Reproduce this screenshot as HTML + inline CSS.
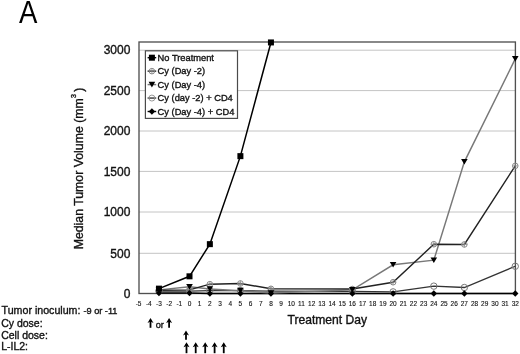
<!DOCTYPE html><html><head><meta charset="utf-8"><style>html,body{margin:0;padding:0;background:#fff;width:520px;height:354px;overflow:hidden}svg{display:block;font-family:"Liberation Sans",sans-serif;will-change:transform}text{stroke:#111;stroke-width:0.35px;paint-order:stroke}</style></head><body>
<svg width="520" height="354" viewBox="0 0 520 354">
<rect width="520" height="354" fill="#fff"/>
<text transform="translate(19.1,22.6) scale(0.895,1)" x="0" y="0" font-size="30.8" fill="#000" style="stroke:none">A</text>
<text transform="translate(82.7,249.3) rotate(-90)" font-size="12.3" fill="#111">Median Tumor Volume (mm<tspan font-size="7" dy="-7.2" dx="0.3">3</tspan><tspan dy="7.2" dx="2.2">)</tspan></text>
<line x1="139" y1="253.30" x2="515.2" y2="253.30" stroke="#c4c4c4" stroke-width="1"/>
<line x1="139" y1="212.00" x2="515.2" y2="212.00" stroke="#c4c4c4" stroke-width="1"/>
<line x1="139" y1="171.40" x2="515.2" y2="171.40" stroke="#c4c4c4" stroke-width="1"/>
<line x1="139" y1="131.00" x2="515.2" y2="131.00" stroke="#c4c4c4" stroke-width="1"/>
<line x1="139" y1="90.60" x2="515.2" y2="90.60" stroke="#c4c4c4" stroke-width="1"/>
<line x1="139" y1="50.20" x2="515.2" y2="50.20" stroke="#c4c4c4" stroke-width="1"/>
<text x="130.4" y="297.70" font-size="12" text-anchor="end" fill="#111">0</text>
<text x="130.4" y="257.50" font-size="12" text-anchor="end" fill="#111">500</text>
<text x="130.4" y="216.20" font-size="12" text-anchor="end" fill="#111">1000</text>
<text x="130.4" y="175.60" font-size="12" text-anchor="end" fill="#111">1500</text>
<text x="130.4" y="135.20" font-size="12" text-anchor="end" fill="#111">2000</text>
<text x="130.4" y="94.80" font-size="12" text-anchor="end" fill="#111">2500</text>
<text x="130.4" y="54.40" font-size="12" text-anchor="end" fill="#111">3000</text>
<rect x="139" y="42.0" width="376.40" height="251.50" fill="none" stroke="#505050" stroke-width="1.35"/>
<text x="138.60" y="305.6" font-size="6.5" text-anchor="middle" fill="#111" style="stroke-width:0.12px">-5</text>
<text x="148.78" y="305.6" font-size="6.5" text-anchor="middle" fill="#111" style="stroke-width:0.12px">-4</text>
<text x="158.96" y="305.6" font-size="6.5" text-anchor="middle" fill="#111" style="stroke-width:0.12px">-3</text>
<text x="169.14" y="305.6" font-size="6.5" text-anchor="middle" fill="#111" style="stroke-width:0.12px">-2</text>
<text x="179.32" y="305.6" font-size="6.5" text-anchor="middle" fill="#111" style="stroke-width:0.12px">-1</text>
<text x="189.50" y="305.6" font-size="6.5" text-anchor="middle" fill="#111" style="stroke-width:0.12px">0</text>
<text x="199.68" y="305.6" font-size="6.5" text-anchor="middle" fill="#111" style="stroke-width:0.12px">1</text>
<text x="209.86" y="305.6" font-size="6.5" text-anchor="middle" fill="#111" style="stroke-width:0.12px">2</text>
<text x="220.04" y="305.6" font-size="6.5" text-anchor="middle" fill="#111" style="stroke-width:0.12px">3</text>
<text x="230.22" y="305.6" font-size="6.5" text-anchor="middle" fill="#111" style="stroke-width:0.12px">4</text>
<text x="240.40" y="305.6" font-size="6.5" text-anchor="middle" fill="#111" style="stroke-width:0.12px">5</text>
<text x="250.58" y="305.6" font-size="6.5" text-anchor="middle" fill="#111" style="stroke-width:0.12px">6</text>
<text x="260.76" y="305.6" font-size="6.5" text-anchor="middle" fill="#111" style="stroke-width:0.12px">7</text>
<text x="270.94" y="305.6" font-size="6.5" text-anchor="middle" fill="#111" style="stroke-width:0.12px">8</text>
<text x="281.12" y="305.6" font-size="6.5" text-anchor="middle" fill="#111" style="stroke-width:0.12px">9</text>
<text x="291.30" y="305.6" font-size="6.5" text-anchor="middle" fill="#111" style="stroke-width:0.12px">10</text>
<text x="301.48" y="305.6" font-size="6.5" text-anchor="middle" fill="#111" style="stroke-width:0.12px">11</text>
<text x="311.66" y="305.6" font-size="6.5" text-anchor="middle" fill="#111" style="stroke-width:0.12px">12</text>
<text x="321.84" y="305.6" font-size="6.5" text-anchor="middle" fill="#111" style="stroke-width:0.12px">13</text>
<text x="332.02" y="305.6" font-size="6.5" text-anchor="middle" fill="#111" style="stroke-width:0.12px">14</text>
<text x="342.20" y="305.6" font-size="6.5" text-anchor="middle" fill="#111" style="stroke-width:0.12px">15</text>
<text x="352.38" y="305.6" font-size="6.5" text-anchor="middle" fill="#111" style="stroke-width:0.12px">16</text>
<text x="362.56" y="305.6" font-size="6.5" text-anchor="middle" fill="#111" style="stroke-width:0.12px">17</text>
<text x="372.74" y="305.6" font-size="6.5" text-anchor="middle" fill="#111" style="stroke-width:0.12px">18</text>
<text x="382.92" y="305.6" font-size="6.5" text-anchor="middle" fill="#111" style="stroke-width:0.12px">19</text>
<text x="393.10" y="305.6" font-size="6.5" text-anchor="middle" fill="#111" style="stroke-width:0.12px">20</text>
<text x="403.28" y="305.6" font-size="6.5" text-anchor="middle" fill="#111" style="stroke-width:0.12px">21</text>
<text x="413.46" y="305.6" font-size="6.5" text-anchor="middle" fill="#111" style="stroke-width:0.12px">22</text>
<text x="423.64" y="305.6" font-size="6.5" text-anchor="middle" fill="#111" style="stroke-width:0.12px">23</text>
<text x="433.82" y="305.6" font-size="6.5" text-anchor="middle" fill="#111" style="stroke-width:0.12px">24</text>
<text x="444.00" y="305.6" font-size="6.5" text-anchor="middle" fill="#111" style="stroke-width:0.12px">25</text>
<text x="454.18" y="305.6" font-size="6.5" text-anchor="middle" fill="#111" style="stroke-width:0.12px">26</text>
<text x="464.36" y="305.6" font-size="6.5" text-anchor="middle" fill="#111" style="stroke-width:0.12px">27</text>
<text x="474.54" y="305.6" font-size="6.5" text-anchor="middle" fill="#111" style="stroke-width:0.12px">28</text>
<text x="484.72" y="305.6" font-size="6.5" text-anchor="middle" fill="#111" style="stroke-width:0.12px">29</text>
<text x="494.90" y="305.6" font-size="6.5" text-anchor="middle" fill="#111" style="stroke-width:0.12px">30</text>
<text x="505.08" y="305.6" font-size="6.5" text-anchor="middle" fill="#111" style="stroke-width:0.12px">31</text>
<text x="515.26" y="305.6" font-size="6.5" text-anchor="middle" fill="#111" style="stroke-width:0.12px">32</text>
<polyline points="158.96,293.09 189.50,293.09 209.86,293.50 240.40,293.50 270.94,293.50 352.38,293.50 393.10,293.50 433.82,293.50 464.36,293.50 515.26,293.50" fill="none" stroke="#000" stroke-width="1.5"/>
<polyline points="158.96,291.07 189.50,291.07 209.86,290.66 240.40,290.66 270.94,291.07 352.38,291.47 393.10,291.88 433.82,286.13 464.36,287.50 515.26,266.27" fill="none" stroke="#333" stroke-width="1.3"/>
<polyline points="158.96,289.85 189.50,286.85 209.86,289.04 240.40,290.66 270.94,293.09 352.38,289.85 393.10,264.81 433.82,260.19 464.36,161.81 515.26,58.89" fill="none" stroke="#787878" stroke-width="1.45"/>
<polyline points="158.96,290.26 189.50,289.85 209.86,284.18 240.40,283.45 270.94,288.80 352.38,289.04 393.10,282.24 433.82,244.23 464.36,244.47 515.26,165.86" fill="none" stroke="#222" stroke-width="1.4"/>
<polyline points="158.96,288.64 189.50,276.32 209.86,244.15 240.40,156.14 270.94,42.44" fill="none" stroke="#000" stroke-width="1.5"/>
<circle cx="158.96" cy="291.07" r="3.2" fill="none" stroke="#777" stroke-width="1"/>
<circle cx="189.50" cy="291.07" r="3.2" fill="none" stroke="#777" stroke-width="1"/>
<circle cx="209.86" cy="290.66" r="3.2" fill="none" stroke="#777" stroke-width="1"/>
<circle cx="240.40" cy="290.66" r="3.2" fill="none" stroke="#777" stroke-width="1"/>
<circle cx="270.94" cy="291.07" r="3.2" fill="none" stroke="#777" stroke-width="1"/>
<circle cx="352.38" cy="291.47" r="3.2" fill="none" stroke="#777" stroke-width="1"/>
<circle cx="393.10" cy="291.88" r="3.2" fill="none" stroke="#777" stroke-width="1"/>
<circle cx="433.82" cy="286.13" r="3.2" fill="none" stroke="#777" stroke-width="1"/>
<circle cx="464.36" cy="287.50" r="3.2" fill="none" stroke="#777" stroke-width="1"/>
<circle cx="515.26" cy="266.27" r="3.2" fill="none" stroke="#777" stroke-width="1"/>
<circle cx="158.96" cy="290.26" r="2.8" fill="none" stroke="#888" stroke-width="1"/><path d="M156.16,290.26H161.76M158.96,287.46V293.06" stroke="#888" stroke-width="0.8"/>
<circle cx="189.50" cy="289.85" r="2.8" fill="none" stroke="#888" stroke-width="1"/><path d="M186.70,289.85H192.30M189.50,287.05V292.65" stroke="#888" stroke-width="0.8"/>
<circle cx="209.86" cy="284.18" r="2.8" fill="none" stroke="#888" stroke-width="1"/><path d="M207.06,284.18H212.66M209.86,281.38V286.98" stroke="#888" stroke-width="0.8"/>
<circle cx="240.40" cy="283.45" r="2.8" fill="none" stroke="#888" stroke-width="1"/><path d="M237.60,283.45H243.20M240.40,280.65V286.25" stroke="#888" stroke-width="0.8"/>
<circle cx="270.94" cy="288.80" r="2.8" fill="none" stroke="#888" stroke-width="1"/><path d="M268.14,288.80H273.74M270.94,286.00V291.60" stroke="#888" stroke-width="0.8"/>
<circle cx="352.38" cy="289.04" r="2.8" fill="none" stroke="#888" stroke-width="1"/><path d="M349.58,289.04H355.18M352.38,286.24V291.84" stroke="#888" stroke-width="0.8"/>
<circle cx="393.10" cy="282.24" r="2.8" fill="none" stroke="#888" stroke-width="1"/><path d="M390.30,282.24H395.90M393.10,279.44V285.04" stroke="#888" stroke-width="0.8"/>
<circle cx="433.82" cy="244.23" r="2.8" fill="none" stroke="#888" stroke-width="1"/><path d="M431.02,244.23H436.62M433.82,241.43V247.03" stroke="#888" stroke-width="0.8"/>
<circle cx="464.36" cy="244.47" r="2.8" fill="none" stroke="#888" stroke-width="1"/><path d="M461.56,244.47H467.16M464.36,241.67V247.27" stroke="#888" stroke-width="0.8"/>
<circle cx="515.26" cy="165.86" r="2.8" fill="none" stroke="#888" stroke-width="1"/><path d="M512.46,165.86H518.06M515.26,163.06V168.66" stroke="#888" stroke-width="0.8"/>
<path d="M155.66,287.05L162.26,287.05L158.96,292.65Z" fill="#000"/>
<path d="M186.20,284.05L192.80,284.05L189.50,289.65Z" fill="#000"/>
<path d="M206.56,286.24L213.16,286.24L209.86,291.84Z" fill="#000"/>
<path d="M237.10,287.86L243.70,287.86L240.40,293.46Z" fill="#000"/>
<path d="M267.64,290.29L274.24,290.29L270.94,295.89Z" fill="#000"/>
<path d="M349.08,287.05L355.68,287.05L352.38,292.65Z" fill="#000"/>
<path d="M389.80,262.01L396.40,262.01L393.10,267.61Z" fill="#000"/>
<path d="M430.52,257.39L437.12,257.39L433.82,262.99Z" fill="#000"/>
<path d="M461.06,159.01L467.66,159.01L464.36,164.61Z" fill="#000"/>
<path d="M511.96,56.09L518.56,56.09L515.26,61.69Z" fill="#000"/>
<path d="M158.96,289.89L162.16,293.09L158.96,296.29L155.76,293.09Z" fill="#000"/>
<path d="M189.50,289.89L192.70,293.09L189.50,296.29L186.30,293.09Z" fill="#000"/>
<path d="M209.86,290.30L213.06,293.50L209.86,296.70L206.66,293.50Z" fill="#000"/>
<path d="M240.40,290.30L243.60,293.50L240.40,296.70L237.20,293.50Z" fill="#000"/>
<path d="M270.94,290.30L274.14,293.50L270.94,296.70L267.74,293.50Z" fill="#000"/>
<path d="M352.38,290.30L355.58,293.50L352.38,296.70L349.18,293.50Z" fill="#000"/>
<path d="M393.10,290.30L396.30,293.50L393.10,296.70L389.90,293.50Z" fill="#000"/>
<path d="M433.82,290.30L437.02,293.50L433.82,296.70L430.62,293.50Z" fill="#000"/>
<path d="M464.36,290.30L467.56,293.50L464.36,296.70L461.16,293.50Z" fill="#000"/>
<path d="M515.26,290.30L518.46,293.50L515.26,296.70L512.06,293.50Z" fill="#000"/>
<rect x="155.96" y="285.64" width="6" height="6" fill="#000"/>
<rect x="186.50" y="273.32" width="6" height="6" fill="#000"/>
<rect x="206.86" y="241.15" width="6" height="6" fill="#000"/>
<rect x="237.40" y="153.14" width="6" height="6" fill="#000"/>
<rect x="267.94" y="39.44" width="6" height="6" fill="#000"/>
<rect x="145.4" y="50.8" width="92.1" height="67.6" fill="#fff" stroke="#4a4a4a" stroke-width="1.2"/>
<line x1="147.6" y1="57.70" x2="156.2" y2="57.70" stroke="#000" stroke-width="1.4"/>
<rect x="148.90" y="54.70" width="6" height="6" fill="#000"/>
<text x="157.6" y="61.00" font-size="9.3" fill="#111">No Treatment</text>
<line x1="147.6" y1="71.15" x2="156.2" y2="71.15" stroke="#222" stroke-width="1.4"/>
<circle cx="151.90" cy="71.15" r="2.8" fill="none" stroke="#888" stroke-width="1"/><path d="M149.10,71.15H154.70M151.90,68.35V73.95" stroke="#888" stroke-width="0.8"/>
<text x="157.6" y="74.45" font-size="9.3" fill="#111">Cy (Day -2)</text>
<line x1="147.6" y1="84.60" x2="156.2" y2="84.60" stroke="#777" stroke-width="1.4"/>
<path d="M148.60,81.80L155.20,81.80L151.90,87.40Z" fill="#000"/>
<text x="157.6" y="87.90" font-size="9.3" fill="#111">Cy (Day -4)</text>
<line x1="147.6" y1="98.05" x2="156.2" y2="98.05" stroke="#333" stroke-width="1.4"/>
<circle cx="151.90" cy="98.05" r="3.0" fill="none" stroke="#999" stroke-width="1"/>
<text x="157.6" y="101.35" font-size="9.3" fill="#111">Cy (day -2) + CD4</text>
<line x1="147.6" y1="111.50" x2="156.2" y2="111.50" stroke="#000" stroke-width="1.4"/>
<path d="M151.90,108.30L155.10,111.50L151.90,114.70L148.70,111.50Z" fill="#000"/>
<text x="157.6" y="114.80" font-size="9.3" fill="#111">Cy (Day -4) + CD4</text>
<text x="287.5" y="324.4" font-size="12.1" fill="#111">Treatment Day</text>
<text x="1.6" y="314.4" font-size="10.65" fill="#111">Tumor inoculum: <tspan font-size="9.2">-9 or -11</tspan></text>
<text x="1.2" y="326.5" font-size="10.5" fill="#111">Cy dose:</text>
<text x="1.2" y="338.6" font-size="10.5" fill="#111">Cell dose:</text>
<text x="1.2" y="350.3" font-size="10.5" fill="#111">L-IL2:</text>
<path d="M150.50,317.90L153.50,322.90L150.50,321.60L147.50,322.90Z" fill="#000"/><line x1="150.50" y1="319.90" x2="150.50" y2="327.80" stroke="#000" stroke-width="1.8"/>
<text x="155.7" y="327.8" font-size="9.2" fill="#111">or</text>
<path d="M169.10,318.00L172.10,323.00L169.10,321.70L166.10,323.00Z" fill="#000"/><line x1="169.10" y1="320.00" x2="169.10" y2="327.80" stroke="#000" stroke-width="1.8"/>
<path d="M186.00,330.40L189.00,335.40L186.00,334.10L183.00,335.40Z" fill="#000"/><line x1="186.00" y1="332.40" x2="186.00" y2="339.70" stroke="#000" stroke-width="1.8"/>
<path d="M186.50,342.30L189.50,347.30L186.50,346.00L183.50,347.30Z" fill="#000"/><line x1="186.50" y1="344.30" x2="186.50" y2="353.20" stroke="#000" stroke-width="1.8"/>
<path d="M195.70,342.30L198.70,347.30L195.70,346.00L192.70,347.30Z" fill="#000"/><line x1="195.70" y1="344.30" x2="195.70" y2="353.20" stroke="#000" stroke-width="1.8"/>
<path d="M205.20,342.30L208.20,347.30L205.20,346.00L202.20,347.30Z" fill="#000"/><line x1="205.20" y1="344.30" x2="205.20" y2="353.20" stroke="#000" stroke-width="1.8"/>
<path d="M214.60,342.30L217.60,347.30L214.60,346.00L211.60,347.30Z" fill="#000"/><line x1="214.60" y1="344.30" x2="214.60" y2="353.20" stroke="#000" stroke-width="1.8"/>
<path d="M223.75,342.30L226.75,347.30L223.75,346.00L220.75,347.30Z" fill="#000"/><line x1="223.75" y1="344.30" x2="223.75" y2="353.20" stroke="#000" stroke-width="1.8"/>
</svg></body></html>
